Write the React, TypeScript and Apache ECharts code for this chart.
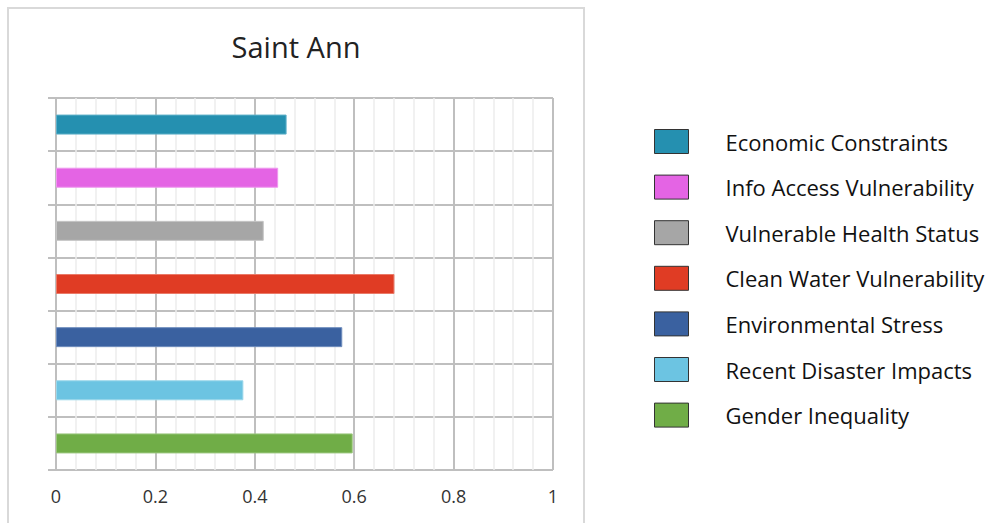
import React, { useEffect, useRef } from "react";
import * as echarts from "echarts";

const categories = [
  "Economic Constraints",
  "Info Access Vulnerability",
  "Vulnerable Health Status",
  "Clean Water Vulnerability",
  "Environmental Stress",
  "Recent Disaster Impacts",
  "Gender Inequality",
];
const values = [0.464, 0.447, 0.418, 0.681, 0.576, 0.377, 0.597];
const colors = ["#2590b0", "#e464e4", "#a6a6a6", "#e03c24", "#3a61a0", "#6cc4e2", "#70ad47"];
const borderColors = ["#5fb0c9", "#ef96ef", "#c4c4c4", "#ea7a68", "#6f8dbd", "#9ad7ea", "#9bc67d"];
const xTicks = [0, 0.2, 0.4, 0.6, 0.8, 1];
const title = "Saint Ann";

export default function App() {
  const ref = useRef<HTMLDivElement>(null);
  useEffect(() => {
    if (!ref.current) return;
    const chart = echarts.init(ref.current, null, { renderer: "svg" });
    const series = categories.map((name, i) => ({
      name,
      type: "bar",
      stack: "all",
      barWidth: 20,
      itemStyle: { color: colors[i], borderColor: borderColors[i], borderWidth: 1 },
      data: categories.map((_, j) => (j === i ? values[i] : "-")),
    }));
    chart.setOption({
      animation: false,
      backgroundColor: "#ffffff",
      title: {
        text: title,
        left: 296,
        top: 32,
        padding: 0,
        textAlign: "center",
        textStyle: { fontFamily: "Open Sans", fontSize: 29, fontWeight: "normal", color: "#222222" },
      },
      graphic: [
        {
          type: "rect",
          shape: { x: 8, y: 8, width: 576, height: 540 },
          style: { fill: "none", stroke: "#d9d9d9", lineWidth: 2 },
          z: -1,
        },
      ],
      legend: {
        orient: "vertical",
        left: 654,
        top: 129,
        padding: 0,
        itemWidth: 34,
        itemHeight: 24,
        itemGap: 20.6,
        icon: "rect",
        itemStyle: { borderColor: "#333333", borderWidth: 1 },
        textStyle: { fontFamily: "Open Sans", fontSize: 22, color: "#111111", padding: [0, 0, 0, 32] },
        data: categories,
      },
      grid: { left: 56, right: 451, top: 98, bottom: 53, containLabel: false },
      xAxis: {
        type: "value",
        min: 0,
        max: 1,
        interval: 0.2,
        axisLine: { show: false },
        axisTick: { show: false },
        axisLabel: {
          margin: 17,
          fontFamily: "Open Sans",
          fontSize: 18,
          color: "#333333",
          formatter: (v: number) => (xTicks.includes(Math.round(v * 10) / 10) ? String(Math.round(v * 10) / 10) : ""),
        },
        splitLine: { show: true, lineStyle: { color: "#bfbfbf", width: 2 } },
        minorTick: { show: false, splitNumber: 5 },
        minorSplitLine: { show: true, lineStyle: { color: "#ededed", width: 1.5 } },
      },
      yAxis: {
        type: "category",
        inverse: true,
        data: categories,
        axisLabel: { show: false },
        axisLine: { show: true, lineStyle: { color: "#bfbfbf", width: 2 } },
        axisTick: { show: true, length: 8, lineStyle: { color: "#bfbfbf", width: 2 } },
        splitLine: { show: true, lineStyle: { color: "#bfbfbf", width: 2 } },
      },
      series,
    });
    return () => chart.dispose();
  }, []);
  return (
    <div
      ref={ref}
      style={{ position: "fixed", left: 0, top: 0, width: 1004, height: 523 }}
    />
  );
}
